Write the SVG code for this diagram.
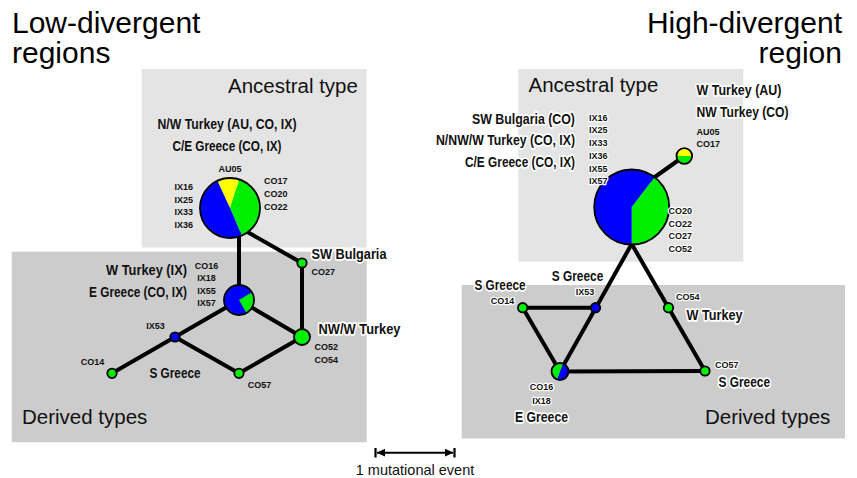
<svg xmlns="http://www.w3.org/2000/svg" width="857" height="478" viewBox="0 0 857 478">
<style>
.title{font-family:"Liberation Sans",Arial,sans-serif;font-size:30px;fill:#000}
.box{font-family:"Liberation Sans",Arial,sans-serif;font-size:20.5px;fill:#111}
.big{font-family:"Liberation Sans",Arial,sans-serif;font-weight:bold;font-size:15px;fill:#111}
.sm{font-family:"Liberation Sans",Arial,sans-serif;font-weight:bold;font-size:9px;fill:#111}
.halo{stroke:#fff;stroke-width:3.5px;stroke-linejoin:round;paint-order:stroke}
.sm.halo{stroke-width:2.5px}
.edge{stroke:#000;stroke-width:4;fill:none}
.ring{fill:none;stroke:#000;stroke-width:1.8}
.g{fill:#00ee00}
.b{fill:#0000ff}
.y{fill:#ffff00}
.anc{fill:#e4e4e4}
.der{fill:#cccccc}
</style>
<rect width="857" height="478" fill="#fff"/>
<!-- background boxes -->
<rect class="anc" x="141.7" y="69" width="225" height="178.5"/>
<rect class="der" x="11.7" y="251.7" width="355" height="190.5"/>
<rect class="anc" x="518.3" y="69" width="225" height="192.7"/>
<rect class="der" x="461.7" y="285" width="383.3" height="153.5"/>

<text class="title" x="12" y="33">Low-divergent</text>
<text class="title" x="12" y="63">regions</text>
<text class="title" x="842" y="33" text-anchor="end">High-divergent</text>
<text class="title" x="842" y="63" text-anchor="end">region</text>
<text class="box" x="228" y="92.5">Ancestral type</text>
<text class="box" x="528.5" y="92">Ancestral type</text>
<text class="box" x="22" y="423.5">Derived types</text>
<text class="box" x="705" y="423.5">Derived types</text>

<g id="connectors">
<line class="edge" x1="239" y1="232" x2="239" y2="300"/>
<line class="edge" x1="244" y1="230.1" x2="302" y2="263"/>
<line class="edge" x1="302" y1="263" x2="302" y2="337"/>
<line class="edge" x1="239" y1="300" x2="302" y2="337"/>
<line class="edge" x1="239" y1="300" x2="175" y2="337"/>
<line class="edge" x1="175" y1="337" x2="112" y2="373.3"/>
<line class="edge" x1="175" y1="337" x2="239" y2="373.3"/>
<line class="edge" x1="239" y1="373.3" x2="302" y2="337"/>
<line class="edge" x1="650" y1="180.5" x2="684.3" y2="156"/>
<line class="edge" x1="631.7" y1="244" x2="560" y2="371.5"/>
<line class="edge" x1="631.7" y1="244" x2="705" y2="371"/>
<line class="edge" x1="522.7" y1="307.7" x2="595.5" y2="307.7"/>
<line class="edge" x1="522.7" y1="307.7" x2="560" y2="371.5"/>
<line class="edge" x1="560" y1="371.5" x2="705" y2="371"/>
</g>

<!-- Left panel nodes -->
<g id="L-ancestral">
<path class="y" d="M230,208 L217.32,180.81 A30,30 0 0 1 239.27,179.47 Z"/>
<path class="g" d="M230,208 L239.27,179.47 A30,30 0 0 1 241.72,235.62 Z"/>
<path class="b" d="M230,208 L241.72,235.62 A30,30 0 0 1 217.32,180.81 Z"/>
<circle class="ring" cx="230" cy="208" r="30"/>
<text class="big" x="227" y="129" text-anchor="middle" textLength="139" lengthAdjust="spacingAndGlyphs">N/W Turkey (AU, CO, IX)</text>
<text class="big" x="227" y="150.5" text-anchor="middle" textLength="109" lengthAdjust="spacingAndGlyphs">C/E Greece (CO, IX)</text>
<text class="sm" x="230" y="171.5" text-anchor="middle">AU05</text>
<text class="sm" text-anchor="end"><tspan x="193" y="190">IX16</tspan><tspan x="193" y="202.5">IX25</tspan><tspan x="193" y="215">IX33</tspan><tspan x="193" y="227.5">IX36</tspan></text>
<text class="sm"><tspan x="264" y="183.5">CO17</tspan><tspan x="264" y="196.5">CO20</tspan><tspan x="264" y="209.5">CO22</tspan></text>
</g>
<g id="L-WTurkey-EGreece">
<circle class="b" cx="239" cy="300" r="15"/>
<path class="g" d="M239,300 L251.86,292.27 A15,15 0 0 1 246.5,312.99 Z"/>
<circle class="ring" cx="239" cy="300" r="15"/>
<text class="big" x="187" y="275" text-anchor="end" textLength="81" lengthAdjust="spacingAndGlyphs">W Turkey (IX)</text>
<text class="big" x="187" y="296.5" text-anchor="end" textLength="98" lengthAdjust="spacingAndGlyphs">E Greece (CO, IX)</text>
<text class="sm" text-anchor="middle"><tspan x="206.5" y="268.5">CO16</tspan><tspan x="206.5" y="281">IX18</tspan><tspan x="206.5" y="293.5">IX55</tspan><tspan x="206.5" y="306">IX57</tspan></text>
</g>
<g id="L-SWBulgaria">
<circle class="g" cx="302" cy="263" r="4.7"/>
<circle class="ring" cx="302" cy="263" r="4.7"/>
<text class="big halo" x="311.5" y="258.5" textLength="75" lengthAdjust="spacingAndGlyphs">SW Bulgaria</text>
<text class="sm" x="311.5" y="275">CO27</text>
</g>
<g id="L-NWWTurkey">
<circle class="g" cx="302" cy="337" r="8"/>
<circle class="ring" cx="302" cy="337" r="8"/>
<text class="big halo" x="318.5" y="333.5" textLength="82" lengthAdjust="spacingAndGlyphs">NW/W Turkey</text>
<text class="sm"><tspan x="314.5" y="350">CO52</tspan><tspan x="314.5" y="362.5">CO54</tspan></text>
</g>
<g id="L-IX53">
<circle class="b" cx="175" cy="337" r="4.7"/>
<circle class="ring" cx="175" cy="337" r="4.7"/>
<text class="sm" x="155.5" y="328.5" text-anchor="middle">IX53</text>
</g>
<g id="L-CO14">
<circle class="g" cx="112" cy="373.3" r="4.7"/>
<circle class="ring" cx="112" cy="373.3" r="4.7"/>
<text class="sm" x="92.5" y="364.5" text-anchor="middle">CO14</text>
</g>
<g id="L-CO57">
<circle class="g" cx="239" cy="373.3" r="4.7"/>
<circle class="ring" cx="239" cy="373.3" r="4.7"/>
<text class="big" x="175" y="378" text-anchor="middle" textLength="51" lengthAdjust="spacingAndGlyphs">S Greece</text>
<text class="sm" x="259.5" y="388" text-anchor="middle">CO57</text>
</g>

<!-- Right panel nodes -->
<g id="R-ancestral">
<path class="g" d="M631.7,207 L654.43,177.17 A37.5,37.5 0 0 1 631.7,244.5 Z"/>
<path class="b" d="M631.7,207 L631.7,244.5 A37.5,37.5 0 1 1 654.43,177.17 Z"/>
<circle class="ring" cx="631.7" cy="207" r="37.5"/>
<text class="big halo" x="575" y="123.5" text-anchor="end" textLength="103" lengthAdjust="spacingAndGlyphs">SW Bulgaria (CO)</text>
<text class="big halo" x="575" y="145" text-anchor="end" textLength="139" lengthAdjust="spacingAndGlyphs">N/NW/W Turkey (CO, IX)</text>
<text class="big halo" x="575" y="166.5" text-anchor="end" textLength="110" lengthAdjust="spacingAndGlyphs">C/E Greece (CO, IX)</text>
<text class="sm halo"><tspan x="589" y="120.5">IX16</tspan><tspan x="589" y="133.2">IX25</tspan><tspan x="589" y="146">IX33</tspan><tspan x="589" y="159">IX36</tspan><tspan x="589" y="171.5">IX55</tspan><tspan x="589" y="184">IX57</tspan></text>
<text class="sm halo"><tspan x="668.5" y="214">CO20</tspan><tspan x="668.5" y="226.7">CO22</tspan><tspan x="668.5" y="239.3">CO27</tspan><tspan x="668.5" y="252">CO52</tspan></text>
</g>
<g id="R-WTurkey-NWTurkey">
<path class="y" d="M676.5,156 A7.8,7.8 0 0 1 692.1,156 Z"/>
<path class="g" d="M692.1,156 A7.8,7.8 0 0 1 676.5,156 Z"/>
<circle class="ring" cx="684.3" cy="156" r="7.8"/>
<text class="big halo" x="696.5" y="95" textLength="85" lengthAdjust="spacingAndGlyphs">W Turkey (AU)</text>
<text class="big halo" x="696.5" y="116.5" textLength="92" lengthAdjust="spacingAndGlyphs">NW Turkey (CO)</text>
<text class="sm"><tspan x="696.5" y="134.5">AU05</tspan><tspan x="696.5" y="147">CO17</tspan></text>
</g>
<g id="R-CO14">
<circle class="g" cx="522.7" cy="307.7" r="4.7"/>
<circle class="ring" cx="522.7" cy="307.7" r="4.7"/>
<text class="big halo" x="500" y="289.5" text-anchor="middle" textLength="51" lengthAdjust="spacingAndGlyphs">S Greece</text>
<text class="sm halo" x="502.5" y="303.5" text-anchor="middle">CO14</text>
</g>
<g id="R-IX53">
<circle class="b" cx="595.5" cy="307.7" r="4.7"/>
<circle class="ring" cx="595.5" cy="307.7" r="4.7"/>
<text class="big halo" x="577.5" y="281" text-anchor="middle" textLength="51.5" lengthAdjust="spacingAndGlyphs">S Greece</text>
<text class="sm halo" x="585" y="294.5" text-anchor="middle">IX53</text>
</g>
<g id="R-CO54">
<circle class="g" cx="668.5" cy="307.7" r="4.7"/>
<circle class="ring" cx="668.5" cy="307.7" r="4.7"/>
<text class="sm halo" x="676" y="300">CO54</text>
<text class="big halo" x="686.5" y="320" textLength="56" lengthAdjust="spacingAndGlyphs">W Turkey</text>
</g>
<g id="R-CO57">
<circle class="g" cx="705" cy="371" r="4.7"/>
<circle class="ring" cx="705" cy="371" r="4.7"/>
<text class="sm halo" x="715" y="367.5">CO57</text>
<text class="big halo" x="718.5" y="387" textLength="51.5" lengthAdjust="spacingAndGlyphs">S Greece</text>
</g>
<g id="R-EGreece">
<path class="b" d="M563.18,363.62 A8.5,8.5 0 0 1 556.82,379.38 Z"/>
<path class="g" d="M556.82,379.38 A8.5,8.5 0 0 1 563.18,363.62 Z"/>
<circle class="ring" cx="560" cy="371.5" r="8.5"/>
<text class="sm halo" text-anchor="middle"><tspan x="541.5" y="390">CO16</tspan><tspan x="541.5" y="403.5">IX18</tspan></text>
<text class="big halo" x="541.5" y="422" text-anchor="middle" textLength="53" lengthAdjust="spacingAndGlyphs">E Greece</text>
</g>

<!-- scale bar -->
<g id="scale">
<line x1="377" y1="452.7" x2="453" y2="452.7" stroke="#000" stroke-width="2"/>
<line x1="375.5" y1="448" x2="375.5" y2="457.5" stroke="#000" stroke-width="2.2"/>
<line x1="454.5" y1="448" x2="454.5" y2="457.5" stroke="#000" stroke-width="2.2"/>
<polygon points="376.5,452.7 385,448.8 385,456.6" fill="#000"/>
<polygon points="453.5,452.7 445,448.8 445,456.6" fill="#000"/>
<text x="415" y="474.5" text-anchor="middle" font-family="Liberation Sans, Arial, sans-serif" font-size="14.5" fill="#111">1 mutational event</text>
</g>
</svg>
